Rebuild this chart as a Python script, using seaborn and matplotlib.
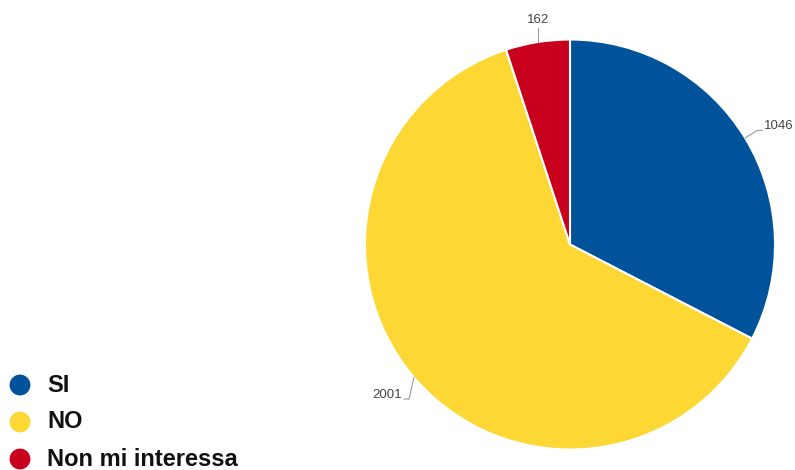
import numpy as np
import matplotlib
matplotlib.use("Agg")
import matplotlib.pyplot as plt
import seaborn as sns

categories = ["SI", "NO", "Non mi interessa"]
values = [1046, 2001, 162]
colors = ["#00529B", "#FDD835", "#C8001E"]

sns.set_theme(style="white")
plt.rcParams["font.family"] = ["Liberation Sans", "DejaVu Sans"]

fig = plt.figure(figsize=(7.95, 4.7), dpi=100)
W, H = 795, 470
cx, cy, R = 570, 244.5, 205
ax = fig.add_axes([(cx - R) / W, (H - cy - R) / H, 2 * R / W, 2 * R / H])
wedges, _ = ax.pie(values, colors=colors, startangle=90, counterclock=False,
                   radius=1, wedgeprops=dict(edgecolor="white", linewidth=1.5))
ax.set_xlim(-1, 1)
ax.set_ylim(-1, 1)
ax.set_aspect("equal")
ax.axis("off")

lc = "#999999"
tc = "#444444"
for w, v in zip(wedges, values):
    ang = np.deg2rad((w.theta1 + w.theta2) / 2)
    x0, y0 = np.cos(ang), np.sin(ang)
    if abs(x0) < 0.25:
        x1, y1 = x0, 1.055
        ax.plot([x0, x1], [y0, y1], color=lc, lw=0.8, clip_on=False)
        ax.text(x1, y1 + 0.01, str(v), ha="center", va="bottom", fontsize=9.5, color=tc)
    else:
        r1 = 1.07
        x1, y1 = r1 * x0, r1 * y0
        s = np.sign(x0)
        if s < 0:
            y1 -= 0.06
            x1 += 0.03
        x2 = x1 + s * 0.025
        ax.plot([x0, x1, x2], [y0, y1, y1], color=lc, lw=0.8, clip_on=False)
        ax.text(x2 + s * 0.008, y1 + 0.02, str(v), ha="left" if s > 0 else "right",
                va="center", fontsize=9.5, color=tc)

# legend drawn in figure pixel space
lax = fig.add_axes([0, 0, 1, 1], facecolor="none")
lax.set_xlim(0, W)
lax.set_ylim(H, 0)
lax.axis("off")
ys = [385, 422, 459]
for c, lab, y in zip(colors, categories, ys):
    lax.scatter([20], [y], s=15 ** 2, color=c, edgecolors="none", clip_on=False)
    lax.text(47, y, lab, fontsize=17, fontweight="bold", color="#111111",
             va="center", ha="left")
fig.savefig("out.png", dpi=100)
